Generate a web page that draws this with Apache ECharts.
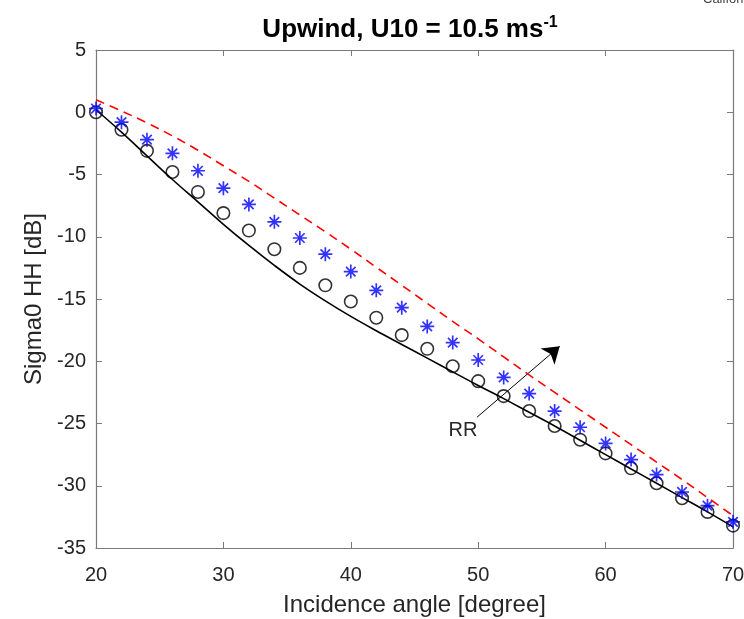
<!DOCTYPE html>
<html>
<head>
<meta charset="utf-8">
<script src="https://cdn.jsdelivr.net/npm/echarts@6/dist/echarts.min.js"></script>
<style>
  html, body { margin: 0; padding: 0; background: #fff; }
  #chart { width: 744px; height: 619px; }
</style>
</head>
<body>
<div id="chart"></div>
<script>
// Incidence angles (degrees) at which the backscatter is evaluated
const angles = [20, 22, 24, 26, 28, 30, 32, 34, 36, 38, 40, 42, 44, 46, 48, 50, 52, 54, 56, 58, 60, 62, 64, 66, 68, 70];

// Solid black curve (dB)
const solidCurve = [0.2, -1.6, -3.5, -5.4, -7.2, -9.0, -10.7, -12.3, -13.8, -15.15, -16.4, -17.55, -18.65, -19.75, -20.85, -21.95, -23.0, -24.1, -25.2, -26.35, -27.5, -28.65, -29.8, -30.95, -32.1, -33.3];

// Red dashed curve (dB)
const dashedCurve = [1.0, 0.1, -0.85, -1.9, -3.05, -4.3, -5.55, -6.9, -8.25, -9.6, -11.0, -12.45, -13.9, -15.35, -16.8, -18.2, -19.65, -21.1, -22.5, -23.9, -25.3, -26.7, -28.1, -29.5, -30.95, -32.4];

// Open circles (dB)
const circleValues = [0.0, -1.4, -3.1, -4.8, -6.4, -8.1, -9.5, -11.0, -12.5, -13.9, -15.2, -16.5, -17.9, -19.0, -20.4, -21.6, -22.8, -24.0, -25.2, -26.3, -27.4, -28.6, -29.8, -31.0, -32.1, -33.2];

// Blue asterisks (dB)
const starValues = [0.3, -0.8, -2.2, -3.3, -4.7, -6.1, -7.4, -8.8, -10.1, -11.4, -12.8, -14.3, -15.7, -17.2, -18.5, -19.9, -21.3, -22.6, -24.0, -25.3, -26.6, -27.9, -29.1, -30.5, -31.6, -32.9];

// Axis ranges and ticks
const xRange = { min: 20, max: 70, step: 10 };
const yRange = { min: -35, max: 5, step: 5 };

// Annotation: arrow in the direction of increasing RR
const rrArrowFrom = [49.9, -24.5];
const rrArrowTo = [56.4, -18.8];
const rrLabelAt = [48.8, -25.6];
const rrLabel = 'RR';

const titleMain = 'Upwind, U10 = 10.5 ms';
const titleSup = '-1';
const xTitle = 'Incidence angle [degree]';
const yTitle = 'Sigma0 HH [dB]';

const pairs = (ys) => angles.map((a, i) => [a, ys[i]]);

const FONT = '"Liberation Sans", Arial, Helvetica, sans-serif';
const AXIS_GRAY = '#7a7a7a';
const TEXT = '#262626';

const chart = echarts.init(document.getElementById('chart'), null, { renderer: 'canvas' });

const baseAxis = (extra) => Object.assign({
  type: 'value',
  axisLine: { show: true, onZero: false, lineStyle: { color: AXIS_GRAY, width: 1.2 } },
  axisTick: { show: true, inside: true, length: 6, lineStyle: { color: AXIS_GRAY, width: 1 } },
  splitLine: { show: false },
  axisLabel: { fontSize: 20, color: TEXT, fontFamily: FONT },
  nameTextStyle: { fontSize: 24, color: TEXT, fontFamily: FONT }
}, extra);

const asterisk = 'path://M5 0 L5 10 M0 5 L10 5 M1.6 1.6 L8.4 8.4 M1.6 8.4 L8.4 1.6';

chart.setOption({
  animation: false,
  backgroundColor: '#fff',
  textStyle: { fontFamily: FONT },
  grid: { left: 96, right: 11, top: 50, bottom: 71, containLabel: false, outerBoundsMode: 'none' },
  xAxis: [
    baseAxis({
      min: xRange.min, max: xRange.max, interval: xRange.step, position: 'bottom',
      axisLabel: { fontSize: 20, color: TEXT, fontFamily: FONT, margin: 17 },
      name: xTitle, nameLocation: 'middle', nameGap: 45
    }),
    baseAxis({
      min: xRange.min, max: xRange.max, interval: xRange.step, position: 'top',
      axisLabel: { show: false }
    })
  ],
  yAxis: [
    baseAxis({
      min: yRange.min, max: yRange.max, interval: yRange.step, position: 'left',
      axisLabel: { fontSize: 20, color: TEXT, fontFamily: FONT, margin: 10 },
      name: yTitle, nameLocation: 'middle', nameGap: 50, nameRotate: 90
    }),
    baseAxis({
      min: yRange.min, max: yRange.max, interval: yRange.step, position: 'right',
      axisLabel: { show: false }
    })
  ],
  graphic: [
    {
      type: 'text', x: 410, y: 30,
      style: {
        text: '{a|' + titleMain + '}{b|' + titleSup + '}',
        align: 'center', verticalAlign: 'middle',
        rich: {
          a: { fontSize: 26, fontWeight: 'bold', fill: '#000', fontFamily: FONT, lineHeight: 30 },
          b: { fontSize: 16, fontWeight: 'bold', fill: '#000', fontFamily: FONT, verticalAlign: 'top', lineHeight: 16 }
        }
      }
    },
    {
      type: 'text', x: 703, y: -7,
      style: { text: 'California', fontSize: 13, fill: '#444', fontFamily: FONT }
    }
  ],
  series: [
    {
      type: 'line', name: 'solid', data: pairs(solidCurve),
      showSymbol: false, symbol: 'none', smooth: 0.4, z: 2,
      lineStyle: { color: '#000', width: 1.6 },
      emphasis: { disabled: true },
      markLine: {
        silent: true, symbol: ['none', 'arrow'], symbolSize: 16,
        label: { show: false },
        lineStyle: { color: '#000', width: 1, type: 'solid' },
        emphasis: { disabled: true },
        data: [[{ coord: rrArrowFrom }, { coord: rrArrowTo }]]
      },
      markPoint: {
        silent: true, symbol: 'circle', symbolSize: 0,
        itemStyle: { color: 'transparent' },
        label: { show: true, position: 'inside', formatter: rrLabel, fontSize: 20, color: TEXT, fontFamily: FONT },
        data: [{ coord: rrLabelAt }]
      }
    },
    {
      type: 'scatter', name: 'circles', data: pairs(circleValues),
      symbol: 'circle', symbolSize: 12.5, z: 3,
      itemStyle: { color: 'rgba(0,0,0,0)', borderColor: '#000', borderWidth: 1.6 },
      emphasis: { disabled: true }
    },
    {
      type: 'scatter', name: 'stars', data: pairs(starValues),
      symbol: asterisk, symbolSize: 14, z: 4,
      itemStyle: { color: '#0000ff', borderColor: '#0000ff', borderWidth: 1.7 },
      emphasis: { disabled: true }
    },
    {
      type: 'line', name: 'dashed', data: pairs(dashedCurve),
      showSymbol: false, symbol: 'none', smooth: 0.4, z: 5,
      lineStyle: { color: '#ff0000', width: 1.6, type: [9, 6] },
      emphasis: { disabled: true }
    }
  ]
});
</script>
</body>
</html>
